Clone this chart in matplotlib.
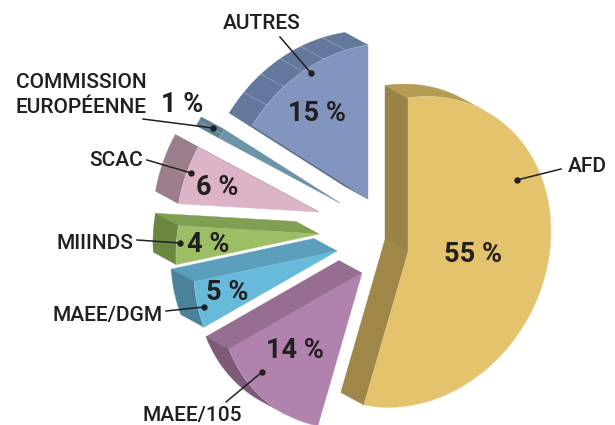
#!/usr/bin/env python3
"""Exploded 3D-look pie chart, built from polygons."""

import numpy as np
import matplotlib
matplotlib.use("Agg")
import matplotlib.pyplot as plt
from matplotlib.patches import Polygon

plt.rcParams["font.family"] = ["Roboto", "DejaVu Sans"]

# ─── Data ────────────────────────────────────────────────────────────────────

names = ["AFD", "MAEE/105", "MAEE/DGM", "MIIINDS", "SCAC",
         "COMMISSION\nEUROPÉENNE", "AUTRES"]
values = [55, 14, 5, 4, 6, 1, 15]

# ─── Layout / style ──────────────────────────────────────────────────────────

apex = [(408, 252), (362, 273), (337, 251), (319, 234), (319, 212), (340, 203), (368, 199)]
top_col = ["#E3C36B", "#B282AE", "#68BADB", "#9CBE64", "#DDB3C7", "#6B94A8", "#8295BE"]
# side colours: first radial edge, last radial edge, outer arc
side_col = [("#9A8347", "#9E8749", "#B49C57"),
            ("#966E92", "#966E92", "#7D5B78"),
            ("#5B9FBD", "#5B9FBD", "#4A819B"),
            ("#809F52", "#809F52", "#6B873F"),
            ("#9B7D8B", "#9B7D8B", "#9B7D8B"),
            ("#5C8294", "#5C8294", "#5C8294"),
            ("#5A6C92", "#5A6C92", "#64779D")]
n_seams = [0, 0, 0, 0, 1, 1, 5]

name_pos = [(587, 167), (192, 415), (108, 316), (95, 243), (116, 160), (81, 95), (262, 23)]
pct_pos = [(473, 255), (295, 350), (227, 293), (208, 244), (217, 187), (182, 104), (317, 113)]
leaders = [((561, 169), (517, 180)), ((226, 402), (262, 372)), ((166, 311), (204, 307)),
           ((137, 240), (180, 243)), ((147, 160), (191, 173)), ((143, 119), (213, 128)),
           ((280, 37), (311, 73))]

# tilt of the disc: unit circle -> pixels, and depth of the extrusion
TILT = np.array([[143.0, 0.0], [-21.0, -154.0]])
DEPTH = np.array([-23.0, -12.5])
TEXT = "#231F20"


def arc_points(center, a0, a1, n=60):
    t = np.radians(np.linspace(a0, a1, n))
    return np.asarray(center) + (TILT @ np.vstack([np.cos(t), np.sin(t)])).T


def add_face(ax, pts, color, z):
    ax.add_patch(Polygon(pts, closed=True, facecolor=color, edgecolor=color,
                         linewidth=0.3, zorder=z))


def draw_slice(ax, center, a0, a1, top, sides, seams):
    arc = arc_points(center, a0, a1, max(int(abs(a1 - a0)), 6))
    c = np.asarray(center, dtype=float)
    outline = np.vstack([c, arc])
    x, y = outline[:, 0], outline[:, 1]
    area = np.sum(x * np.roll(y, -1) - np.roll(x, -1) * y)
    sign = 1 if area > 0 else -1

    def faces_back(p, q):
        d = q - p
        return sign * (d[1] * DEPTH[0] - d[0] * DEPTH[1]) > 0

    # radial sides
    if faces_back(c, arc[0]):
        add_face(ax, [c, arc[0], arc[0] + DEPTH, c + DEPTH], sides[0], 2)
    if faces_back(arc[-1], c):
        add_face(ax, [arc[-1], c, c + DEPTH, arc[-1] + DEPTH], sides[1], 2)

    # outer band: one polygon per run of visible arc segments
    run = []
    for i in range(len(arc) - 1):
        if faces_back(arc[i], arc[i + 1]):
            run = run or [arc[i]]
            run.append(arc[i + 1])
        elif run:
            add_face(ax, np.vstack([run, np.array(run)[::-1] + DEPTH]), sides[2], 2)
            run = []
    if run:
        add_face(ax, np.vstack([run, np.array(run)[::-1] + DEPTH]), sides[2], 2)

    # thin light seams across the outer band
    for a in np.linspace(a0, a1, seams + 2)[1:-1]:
        p = arc_points(center, a, a, 1)[0]
        ax.plot([p[0], p[0] + DEPTH[0]], [p[1], p[1] + DEPTH[1]],
                color="white", alpha=0.28, lw=0.6, zorder=3)

    add_face(ax, outline, top, 4)

    # light edge between top face and visible sides
    ax.plot(arc[:, 0], arc[:, 1], color="white", alpha=0.25, lw=0.5, zorder=5)


def main():
    fig = plt.figure(figsize=(6.15, 4.25), dpi=100)
    ax = fig.add_axes([0, 0, 1, 1])
    ax.set_xlim(0, 615)
    ax.set_ylim(425, 0)
    ax.axis("off")

    a = 90.0
    for i, v in enumerate(values):
        sweep = v / sum(values) * 360
        draw_slice(ax, apex[i], a, a - sweep, top_col[i], side_col[i], n_seams[i])
        a -= sweep

    for i, name in enumerate(names):
        ax.text(*name_pos[i], name, ha="center", va="center", fontsize=15,
                color=TEXT, linespacing=1.38, fontweight="medium", zorder=8)
        ax.text(*pct_pos[i], f"{values[i]} %", ha="center", va="center", fontsize=19.5,
                fontweight="bold", color=TEXT, zorder=8)
        (x0, y0), (x1, y1) = leaders[i]
        ax.plot([x0, x1], [y0, y1], color=TEXT, lw=1.1, zorder=7)
        ax.plot(x1, y1, "o", color=TEXT, ms=4.6, mew=0, zorder=7)

    fig.savefig("out.png", dpi=100)
    plt.close(fig)


if __name__ == "__main__":
    main()
